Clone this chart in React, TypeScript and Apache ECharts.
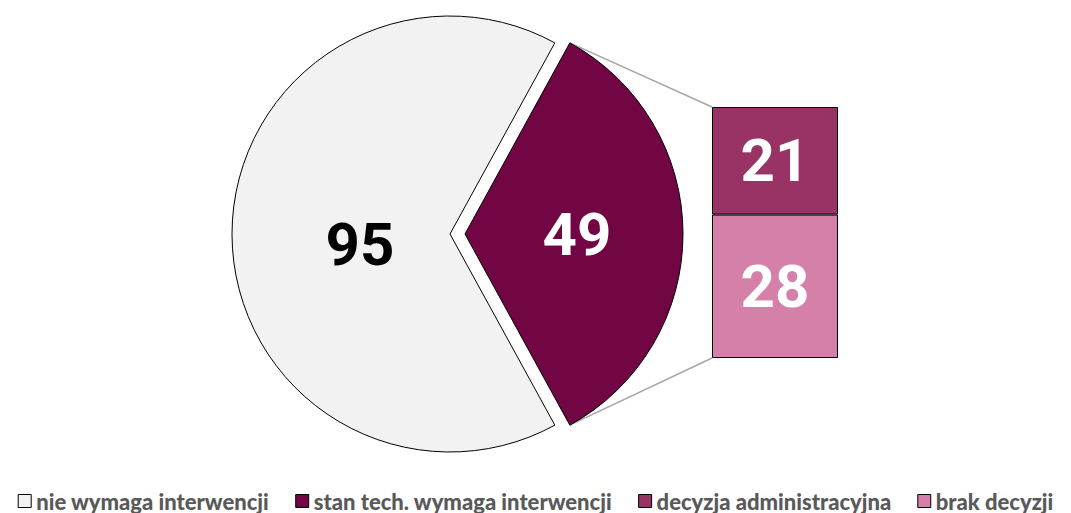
import React, { useEffect, useRef } from "react";
import * as echarts from "echarts";

const pieNames = ["stan tech. wymaga interwencji", "nie wymaga interwencji"];
const pieValues = [49, 95];
const pieColors = ["#720645", "#F2F2F2"];
const barNames = ["brak decyzji", "decyzja administracyjna"];
const barValues = [28, 21];
const barColors = ["#D580A8", "#993366"];
const legendOrder = ["nie wymaga interwencji", "stan tech. wymaga interwencji", "decyzja administracyjna", "brak decyzji"];

export default function App() {
  const ref = useRef<HTMLDivElement>(null);
  useEffect(() => {
    if (!ref.current) return;
    const chart = echarts.init(ref.current, null, { renderer: "svg" });
    const cx = 450, cy = 234, r = 218, explode = 15;
    const total = pieValues.reduce((a, b) => a + b, 0);
    const half = (pieValues[0] / total) * 180;
    const grid = { left: 712, top: 107, width: 126, height: 251 };
    const rad = (half * Math.PI) / 180;
    const px = cx + explode + r * Math.cos(rad);
    const pyTop = cy - r * Math.sin(rad);
    const pyBot = cy + r * Math.sin(rad);
    const labelFont = { fontFamily: "Roboto", fontWeight: "bold" as const, fontSize: 60 };

    chart.setOption({
      animation: false,
      backgroundColor: "#ffffff",
      legend: {
        data: legendOrder,
        left: "center",
        top: 485,
        itemWidth: 13,
        itemHeight: 13,
        itemGap: 26,
        icon: "rect",
        itemStyle: { borderColor: "#000", borderWidth: 1 },
        textStyle: { color: "#595959", fontWeight: 900, fontSize: 22, fontFamily: "Lato" },
        selectedMode: false,
      },
      grid: { left: grid.left, top: grid.top, width: grid.width, height: grid.height },
      xAxis: { type: "category", data: ["x"], show: false },
      yAxis: { type: "value", min: 0, max: pieValues[0], show: false },
      series: [
        {
          type: "pie",
          center: [cx, cy],
          radius: [0, r],
          startAngle: half,
          clockwise: true,
          selectedMode: "single",
          selectedOffset: explode,
          emphasis: { disabled: true },
          itemStyle: { borderColor: "#000", borderWidth: 1 },
          label: { show: true, position: "inside", formatter: "{c}", ...labelFont },
          labelLine: { show: false },
          data: pieNames.map((n, i) => ({
            name: n,
            value: pieValues[i],
            selected: i === 0,
            itemStyle: { color: pieColors[i] },
            select: { itemStyle: { color: pieColors[i], borderColor: "#000", borderWidth: 1 } },
            label: i === 0 ? { color: "#fff", offset: [-5, 1] } : { color: "#000", offset: [22, 10] },
          })),
        },
        ...barNames.map((n, i) => ({
          type: "bar",
          name: n,
          stack: "s",
          barWidth: "100%",
          data: [barValues[i]],
          itemStyle: { color: barColors[i], borderColor: "#000", borderWidth: 1 },
          emphasis: { disabled: true },
          label: { show: true, position: "inside", color: "#fff", ...labelFont },
        })),
      ],
      graphic: [
        { type: "line", shape: { x1: px, y1: pyTop, x2: grid.left, y2: grid.top }, style: { stroke: "#A6A6A6", lineWidth: 1.5 }, silent: true },
        { type: "line", shape: { x1: px, y1: pyBot, x2: grid.left, y2: grid.top + grid.height }, style: { stroke: "#A6A6A6", lineWidth: 1.5 }, silent: true },
      ],
    });
    return () => chart.dispose();
  }, []);
  return <div ref={ref} style={{ position: "fixed", left: 0, top: 0, width: 1071, height: 513 }} />;
}
